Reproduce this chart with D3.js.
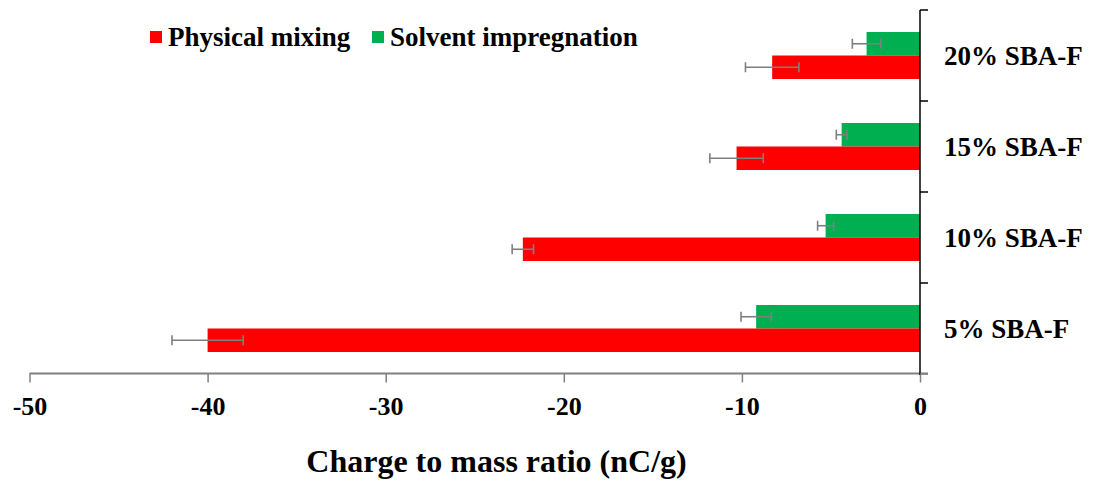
<!DOCTYPE html>
<html>
<head>
<meta charset="utf-8">
<script src="https://cdn.jsdelivr.net/npm/d3@7"></script>
<style>
  html, body { margin: 0; padding: 0; background: #fff; }
  svg { display: block; }
  text { font-family: "Liberation Serif", "Times New Roman", serif; font-weight: bold; fill: #000; }
</style>
</head>
<body>
<svg id="chart" width="1094" height="488"></svg>
<script>
// Sample loadings, listed top to bottom
const categories = ["20% SBA-F", "15% SBA-F", "10% SBA-F", "5% SBA-F"];
const seriesNames = ["Solvent impregnation", "Physical mixing"];
const legendOrder = ["Physical mixing", "Solvent impregnation"];
// Charge to mass ratio (nC/g) and standard deviations, same order as categories
const physicalMixing = [-8.3, -10.3, -22.3, -40.0];
const physicalMixingErr = [1.5, 1.5, 0.6, 2.0];
const solventImpregnation = [-3.0, -4.4, -5.3, -9.2];
const solventImpregnationErr = [0.8, 0.3, 0.45, 0.85];
const xTicks = [-50, -40, -30, -20, -10, 0];
const xTitle = "Charge to mass ratio (nC/g)";

const colors = { "Physical mixing": "#ff0000", "Solvent impregnation": "#00b050" };
const values = { "Physical mixing": physicalMixing, "Solvent impregnation": solventImpregnation };
const errors = { "Physical mixing": physicalMixingErr, "Solvent impregnation": solventImpregnationErr };

const svg = d3.select("#chart");

const x = d3.scaleLinear().domain([-50, 0]).range([29.5, 920]);
const y = d3.scaleBand().domain(categories).range([10, 374]).padding(0);
const ySub = d3.scaleBand().domain(seriesNames).range([0, y.bandwidth()])
  .paddingInner(0).paddingOuter(0.936);

const rows = [];
categories.forEach((c, i) => {
  seriesNames.forEach(s => rows.push({ cat: c, series: s, value: values[s][i], err: errors[s][i] }));
});

// Bars
svg.append("g").selectAll("rect").data(rows).join("rect")
  .attr("x", d => x(d.value))
  .attr("width", d => x(0) - x(d.value))
  .attr("y", d => y(d.cat) + ySub(d.series))
  .attr("height", ySub.bandwidth())
  .attr("fill", d => colors[d.series]);

// Error bars
const eb = svg.append("g").attr("stroke", "#7f7f7f").attr("stroke-width", 1.6).attr("fill", "none");
rows.forEach(d => {
  const cy = y(d.cat) + ySub(d.series) + ySub.bandwidth() / 2;
  const x1 = x(d.value - d.err), x2 = x(d.value + d.err);
  eb.append("line").attr("x1", x1).attr("x2", x2).attr("y1", cy).attr("y2", cy);
  eb.append("line").attr("x1", x1).attr("x2", x1).attr("y1", cy - 5).attr("y2", cy + 5);
  eb.append("line").attr("x1", x2).attr("x2", x2).attr("y1", cy - 5).attr("y2", cy + 5);
});

// Bottom axis (plain hyphen for negative labels)
const xAxis = svg.append("g").attr("transform", "translate(0,373.5)")
  .call(d3.axisBottom(x).tickValues(xTicks).tickFormat(d => String(d)).tickSize(9).tickSizeOuter(0));
xAxis.select(".domain").attr("stroke", "#808080").attr("stroke-width", 2)
  .attr("d", `M${x(-50)},0H928`);
xAxis.selectAll(".tick line").attr("stroke", "#808080").attr("stroke-width", 1.5);
xAxis.selectAll(".tick text")
  .attr("font-family", "Liberation Serif, serif").attr("font-weight", "bold")
  .attr("font-size", 26).attr("fill", "#000")
  .attr("dy", null).attr("y", 41);

// Right-hand category axis with boundary ticks
const yAxisG = svg.append("g").attr("transform", `translate(${x(0)},0)`);
yAxisG.append("line").attr("x1", 0).attr("x2", 0).attr("y1", 10).attr("y2", 375)
  .attr("stroke", "#000").attr("stroke-width", 1.5);
const boundaries = categories.map(c => y(c)).concat([y.range()[1]]);
yAxisG.selectAll("line.tk").data(boundaries).join("line").attr("class", "tk")
  .attr("x1", 0).attr("x2", 8).attr("y1", d => d).attr("y2", d => d)
  .attr("stroke", d => d === y.range()[1] ? "#808080" : "#000").attr("stroke-width", 1.5);
yAxisG.selectAll("text").data(categories).join("text")
  .attr("x", 24)
  .attr("y", d => y(d) + y.bandwidth() / 2 + 9)
  .attr("font-size", 27)
  .text(d => d);

// Axis title
svg.append("text")
  .attr("x", 496.5).attr("y", 472)
  .attr("text-anchor", "middle")
  .attr("font-size", 32)
  .text(xTitle);

// Legend
const legendX = [150, 372];
const legend = svg.append("g");
legendOrder.forEach((s, i) => {
  legend.append("rect").attr("x", legendX[i]).attr("y", 31).attr("width", 12).attr("height", 12)
    .attr("fill", colors[s]);
  legend.append("text").attr("x", legendX[i] + 18).attr("y", 46).attr("font-size", 27).text(s);
});
</script>
</body>
</html>
